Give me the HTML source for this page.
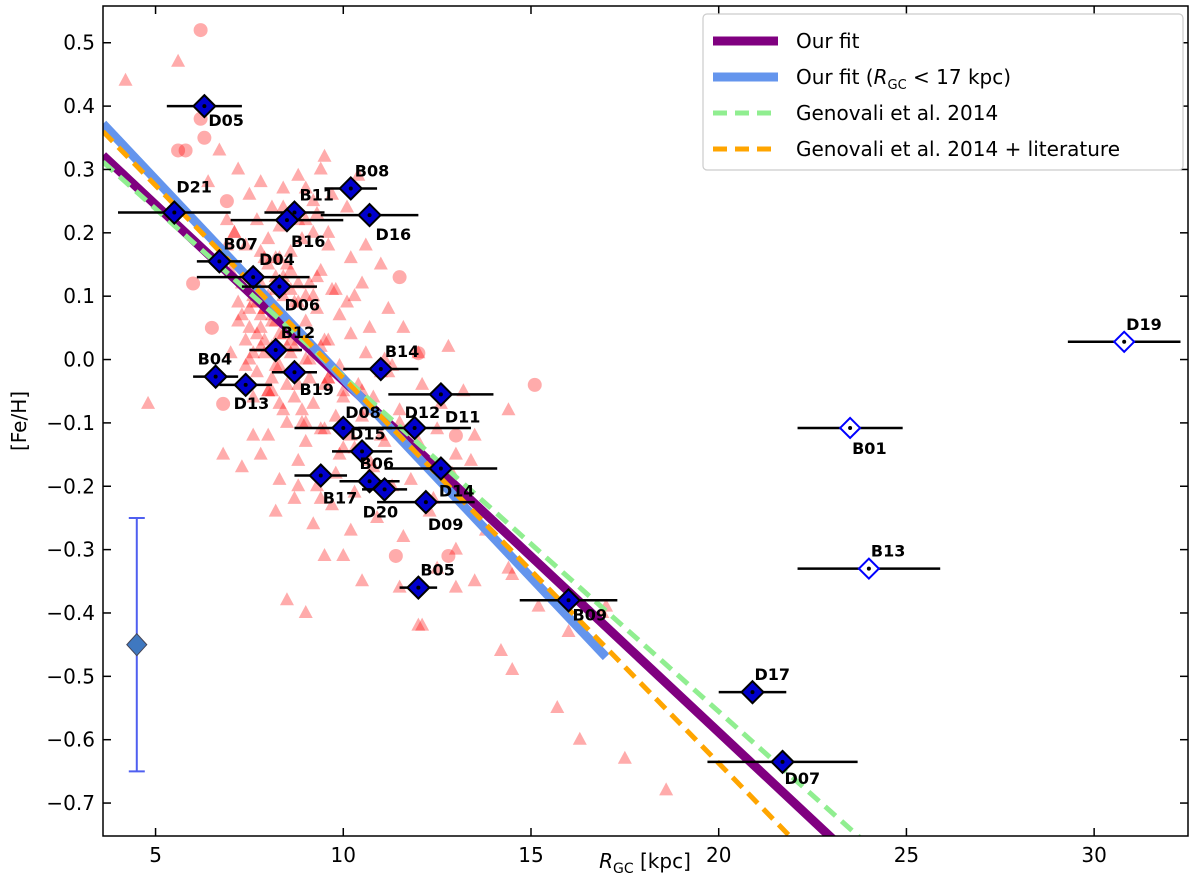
<!DOCTYPE html>
<html><head><meta charset="utf-8"><style>
html,body{margin:0;background:#fff;overflow:hidden}
svg{display:block}
svg text{font-family:"DejaVu Sans","Liberation Sans",sans-serif}
</style></head><body>
<svg id="c" width="1200" height="881"></svg>
<script>
const xMin=3.6,xMax=32.5,yMin=-0.752,yMax=0.558;
const L=103,R=1188,T=6,B=836;
const xTicks=[5,10,15,20,25,30];
const yTicks=[0.5,0.4,0.3,0.2,0.1,0.0,-0.1,-0.2,-0.3,-0.4,-0.5,-0.6,-0.7];
const yTickLabels=["0.5","0.4","0.3","0.2","0.1","0.0","−0.1","−0.2","−0.3","−0.4","−0.5","−0.6","−0.7"];
// Cepheid triangles [R, FeH]
const triR=[4.2,5.6,6.7,6.4,7.2,7.5,7.8,8.1,8.4,8.8,9.2,9.5,9.7,10.1,10.4,6.9,7.1,7.4,7.7,8.0,8.3,8.6,8.9,9.3,9.6,7.0,7.3,7.6,7.9,8.2,8.5,8.8,9.1,9.4,9.8,10.2,10.6,11.0,7.2,7.5,7.8,8.1,8.4,8.7,9.0,9.3,9.6,9.9,10.3,10.7,11.2,7.0,7.4,7.8,8.2,8.6,9.0,9.4,9.8,10.2,10.6,11.1,11.6,12.0,7.6,8.0,8.4,8.8,9.2,9.6,10.0,10.5,11.0,11.5,12.1,12.6,8.0,8.5,9.0,9.5,10.0,10.5,11.0,11.5,12.0,12.5,13.0,13.5,7.3,7.8,8.3,8.8,9.3,9.8,10.3,10.8,11.3,11.8,12.4,12.9,13.4,8.2,8.7,9.2,9.7,10.2,10.9,11.6,12.3,13.0,13.8,14.4,8.5,9.5,10.5,11.5,12.5,13.5,14.5,15.2,16.0,16.9,17.0,12.0,13.0,14.2,14.5,15.7,16.3,17.5,18.6,4.8,12.1,9.0,10.0,11.3,12.8,13.2,14.4,
 7.6,7.8,8.0,8.2,7.7,7.9,8.1,8.3,7.5,7.7,7.9,8.1,8.3,8.5,7.4,7.6,7.8,8.0,8.2,8.4,8.6,7.3,7.5,7.7,7.9,8.1,8.3,8.5,8.7,7.6,7.8,8.0,8.2,8.4,8.6,8.8,9.0,7.9,8.1,8.3,8.5,8.7,8.9,9.1,8.0,8.4,8.8,9.2,9.6,8.3,8.7,9.1,9.5,9.9,8.6,9.0,9.4,9.8,10.2,10.6,8.9,9.3,9.7,10.1,10.5,9.2,9.6,10.0,10.4,10.8,11.2,9.5,9.9,10.3,10.7,11.1,6.8,7.1,6.9,7.2,8.6,9.0,9.4,9.0,9.4,8.8];
const triF=[0.44,0.47,0.33,0.28,0.30,0.26,0.28,0.24,0.27,0.29,0.25,0.32,0.26,0.24,0.29,0.22,0.20,0.18,0.22,0.19,0.21,0.17,0.19,0.23,0.20,0.14,0.12,0.10,0.16,0.13,0.15,0.09,0.12,0.14,0.11,0.16,0.18,0.15,0.06,0.08,0.05,0.07,0.04,0.09,0.06,0.08,0.03,0.07,0.10,0.05,0.08,0.01,-0.01,0.02,-0.01,0.03,0.00,0.02,-0.02,0.04,0.01,0.00,0.05,0.01,-0.06,-0.05,-0.08,-0.04,-0.07,-0.03,-0.06,-0.05,-0.02,-0.08,-0.04,-0.07,-0.12,-0.10,-0.13,-0.11,-0.14,-0.09,-0.12,-0.10,-0.13,-0.11,-0.15,-0.12,-0.17,-0.15,-0.19,-0.16,-0.20,-0.18,-0.21,-0.17,-0.20,-0.19,-0.22,-0.18,-0.16,-0.24,-0.22,-0.26,-0.23,-0.27,-0.25,-0.28,-0.24,-0.30,-0.27,-0.33,-0.38,-0.31,-0.35,-0.36,-0.33,-0.35,-0.34,-0.39,-0.43,-0.40,-0.39,-0.42,-0.36,-0.46,-0.49,-0.55,-0.60,-0.63,-0.68,-0.07,-0.42,-0.40,-0.31,-0.01,0.02,-0.05,-0.08,-0.12,
 0.12,0.10,0.11,0.09,0.08,0.06,0.07,0.05,0.04,0.03,0.02,0.04,0.06,0.03,0.09,0.07,0.08,0.06,0.10,0.05,0.07,0.00,-0.02,0.01,-0.03,-0.01,0.02,-0.02,0.01,0.17,0.15,0.16,0.13,0.14,0.12,0.10,0.08,-0.05,-0.07,-0.04,-0.06,-0.08,-0.03,-0.05,0.24,0.22,0.20,0.18,0.16,0.02,0.00,0.03,-0.01,0.01,-0.10,-0.11,-0.09,-0.12,-0.08,-0.10,0.13,0.11,0.09,0.12,0.10,-0.03,-0.05,-0.04,-0.06,-0.02,-0.04,-0.15,-0.14,-0.16,-0.13,-0.15,0.20,0.18,0.09,0.11,0.27,0.30,0.22,-0.22,-0.20,-0.16];
// Red circles
const cirR=[6.2,5.8,5.6,6.3,6.2,6.0,6.5,6.8,11.5,12.0,15.1,12.8,13.0,11.4,6.9];
const cirF=[0.52,0.33,0.33,0.35,0.38,0.12,0.05,-0.07,0.13,0.01,-0.04,-0.31,-0.12,-0.31,0.25];
// Our clusters
const names=["D05","D21","B08","B11","B16","D16","B07","D04","D06","B12","B04","D13","B19","B14","D11","D08","D15","D12","B06","D20","D14","D09","B17","B05","B09","D17","D07"];
const clR=[6.3,5.5,10.2,8.7,8.5,10.7,6.7,7.6,8.3,8.2,6.6,7.4,8.7,11.0,12.6,10.0,10.5,11.9,10.7,11.1,12.6,12.2,9.4,12.0,16.0,20.9,21.7];
const clF=[0.40,0.232,0.27,0.232,0.22,0.228,0.155,0.13,0.115,0.015,-0.027,-0.04,-0.02,-0.015,-0.055,-0.108,-0.145,-0.108,-0.192,-0.205,-0.172,-0.225,-0.183,-0.36,-0.38,-0.525,-0.635];
const clErr=[1.0,1.5,0.7,0.8,1.5,1.3,0.6,1.5,1.0,0.7,0.6,0.7,0.6,1.0,1.4,1.3,0.8,1.5,0.8,0.6,1.5,1.3,0.7,0.5,1.3,0.9,2.0];
const lblDx=[4,2,4,5,4,6,4,6,5,5,-18,-12,5,4,4,2,-12,-10,-10,-22,-2,2,2,2,4,2,2];
const lblDy=[20,-20,-12,-12,27,25,-12,-12,24,-12,-12,24,23,-12,28,-10,-12,-10,-12,28,28,28,28,-12,20,-12,22];
const openNames=["B01","B13","D19"];
const openR=[23.5,24.0,30.8];
const openF=[-0.108,-0.33,0.028];
const openErr=[1.4,1.9,1.5];
const openDx=[2,2,2],openDy=[26,-12,-12];
// fits
const fitSlope=[-0.0555,-0.0628,-0.0529,-0.0608];
const fitAt36=[0.322,0.372,0.312,0.360];
const fitEnd=[25,17,25,25];

const sx=v=>L+(v-xMin)/(xMax-xMin)*(R-L);
const sy=v=>T+(yMax-v)/(yMax-yMin)*(B-T);
const svg=document.getElementById('c');const NS="http://www.w3.org/2000/svg";
function el(t,a,p){const e=document.createElementNS(NS,t);for(const k in a)e.setAttribute(k,a[k]);(p||svg).appendChild(e);return e;}
const defs=el('defs',{});const cp=el('clipPath',{id:'clip'},defs);el('rect',{x:L,y:T,width:R-L,height:B-T},cp);
const g=el('g',{'clip-path':'url(#clip)'});
const tg=el('g',{},g);


for(let i=0;i<triR.length;i++){const x=sx(triR[i]),y=sy(triF[i]);
 const p=el('polygon',{points:`${x},${y-8} ${x-7},${y+5} ${x+7},${y+5}`,fill:'rgba(255,0,0,0.33)'},tg);
 }
for(let i=0;i<cirR.length;i++){const c=el('circle',{cx:sx(cirR[i]),cy:sy(cirF[i]),r:7,fill:'rgba(255,0,0,0.33)'},tg);
 }
const fitCol=['#800080','#6495ed','#90ee90','#ffa500'];
const fitW=[9,9,5,5];const fitDash=['','','14,8','14,8'];const fitNames=['fit-our','fit-our-rgc17','fit-genovali','fit-genovali-lit'];
for(let i=0;i<4;i++){const y1=fitAt36[i],y2=fitAt36[i]+fitSlope[i]*(fitEnd[i]-3.6);
 const ln=el('line',{x1:sx(3.6),y1:sy(y1),x2:sx(fitEnd[i]),y2:sy(y2),stroke:fitCol[i],'stroke-width':fitW[i],'stroke-dasharray':fitDash[i]},g);
 }
for(let i=0;i<names.length;i++){const x=sx(clR[i]),y=sy(clF[i]);
 el('line',{x1:sx(clR[i]-clErr[i]),x2:sx(clR[i]+clErr[i]),y1:y,y2:y,stroke:'#000','stroke-width':2.5},g);
 const d=el('polygon',{points:`${x},${y-11} ${x+11},${y} ${x},${y+11} ${x-11},${y}`,fill:'#0000cd',stroke:'#000','stroke-width':2},g);
 
 el('circle',{cx:x,cy:y,r:2,fill:'#000'},g);
 const t=el('text',{x:x+lblDx[i],y:y+lblDy[i],'font-size':16,'font-weight':'bold',fill:'#000'},g);t.textContent=names[i];
 }
for(let i=0;i<openNames.length;i++){const x=sx(openR[i]),y=sy(openF[i]);
 el('line',{x1:sx(openR[i]-openErr[i]),x2:sx(openR[i]+openErr[i]),y1:y,y2:y,stroke:'#000','stroke-width':2.5},g);
 const d=el('polygon',{points:`${x},${y-10} ${x+10},${y} ${x},${y+10} ${x-10},${y}`,fill:'#fff',stroke:'#0000ff','stroke-width':2},g);
 
 el('circle',{cx:x,cy:y,r:2,fill:'#000'},g);
 const t=el('text',{x:x+openDx[i],y:y+openDy[i],'font-size':16,'font-weight':'bold',fill:'#000'},g);t.textContent=openNames[i];
 }
const ex=sx(4.5);
el('line',{x1:ex,x2:ex,y1:sy(-0.25),y2:sy(-0.65),stroke:'#4f5ff0','stroke-width':2},g);
el('line',{x1:ex-8,x2:ex+8,y1:sy(-0.25),y2:sy(-0.25),stroke:'#4f5ff0','stroke-width':2},g);
el('line',{x1:ex-8,x2:ex+8,y1:sy(-0.65),y2:sy(-0.65),stroke:'#4f5ff0','stroke-width':2},g);
const ed=el('polygon',{points:`${ex},${sy(-0.45)-11} ${ex+10},${sy(-0.45)} ${ex},${sy(-0.45)+11} ${ex-10},${sy(-0.45)}`,fill:'#3f78c0',stroke:'#445','stroke-width':1},g);

const fr=el('rect',{x:L,y:T,width:R-L,height:B-T,fill:'none',stroke:'#000','stroke-width':1.5});

xTicks.forEach(v=>{const x=sx(v);el('line',{x1:x,x2:x,y1:B,y2:B-8,stroke:'#000','stroke-width':1.5});el('line',{x1:x,x2:x,y1:T,y2:T+8,stroke:'#000','stroke-width':1.5});
 const t=el('text',{x:x,y:B+26,'font-size':20,'text-anchor':'middle'});t.textContent=v;
 });
yTicks.forEach((v,i)=>{const y=sy(v);el('line',{x1:L,x2:L+8,y1:y,y2:y,stroke:'#000','stroke-width':1.5});el('line',{x1:R,x2:R-8,y1:y,y2:y,stroke:'#000','stroke-width':1.5});
 const t=el('text',{x:L-8,y:y+7,'font-size':20,'text-anchor':'end'});t.textContent=yTickLabels[i];
 });
const xt=el('text',{x:645,y:868,'font-size':20,'text-anchor':'middle'});xt.innerHTML='<tspan font-style="italic">R</tspan><tspan font-size="14" dy="5">GC</tspan><tspan dy="-5"> [kpc]</tspan>';

const yt=el('text',{x:0,y:0,'font-size':20,'text-anchor':'middle',transform:'translate(26,421) rotate(-90)'});yt.textContent='[Fe/H]';

const lg=el('g',{});
el('rect',{x:703,y:14,width:480,height:156,rx:4,fill:'#fff',stroke:'#ccc','stroke-width':1.2},lg);
const lt=['Our fit','Our fit (<tspan font-style="italic">R</tspan><tspan font-size="13" dy="5">GC</tspan><tspan dy="-5"> &lt; 17 kpc)</tspan>','Genovali et al. 2014','Genovali et al. 2014 + literature'];
for(let i=0;i<4;i++){const y=41+i*36;
 el('line',{x1:713,x2:778,y1:y,y2:y,stroke:fitCol[i],'stroke-width':fitW[i],'stroke-dasharray':fitDash[i]},lg);
 const t=el('text',{x:796,y:y+7,'font-size':20},lg);t.innerHTML=lt[i];
 }
</script>
</body></html>
